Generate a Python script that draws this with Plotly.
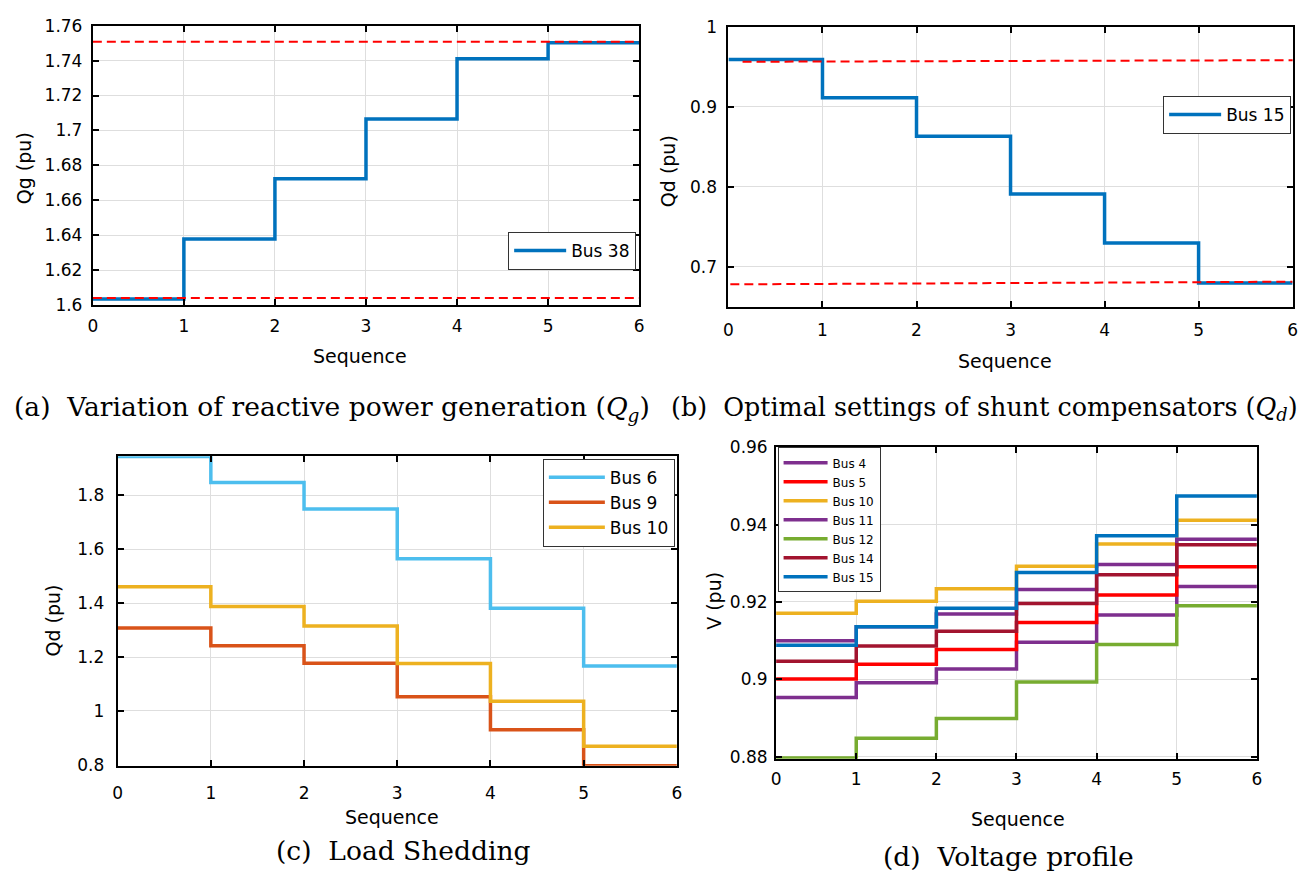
import plotly.graph_objects as go

W, H = 1314, 883

# ---------------- data ----------------
seq = [0, 1, 2, 3, 4, 5, 6]
seq_ticktext = ["0", "1", "2", "3", "4", "5", "6"]

# (a) reactive power generation
qg_bus38 = [1.6035, 1.6379, 1.6724, 1.7066, 1.7411, 1.7502]
qg_limit_x = [0, 6]
qg_upper = [1.7508, 1.7508]
qg_lower = [1.6041, 1.6041]
qg_ticks = [1.6, 1.62, 1.64, 1.66, 1.68, 1.7, 1.72, 1.74, 1.76]
qg_ticktext = ["1.6", "1.62", "1.64", "1.66", "1.68", "1.7", "1.72", "1.74", "1.76"]

# (b) shunt compensators
qd_bus15 = [0.9593, 0.9114, 0.8632, 0.7908, 0.7295, 0.6796]
qd_upper_x = [0.15, 6.05]
qd_upper = [0.9564, 0.9584]
qd_lower_x = [0.02, 6.0]
qd_lower = [0.6778, 0.6811]
qd_ticks = [0.7, 0.8, 0.9, 1.0]
qd_ticktext = ["0.7", "0.8", "0.9", "1"]

# (c) load shedding
shed_bus6 = [1.945, 1.848, 1.750, 1.565, 1.381, 1.167]
shed_bus9 = [1.308, 1.242, 1.177, 1.053, 0.930, 0.797]
shed_bus10 = [1.461, 1.388, 1.315, 1.176, 1.036, 0.869]
shed_ticks = [0.8, 1.0, 1.2, 1.4, 1.6, 1.8]
shed_ticktext = ["0.8", "1", "1.2", "1.4", "1.6", "1.8"]

# (d) voltage profile
v_bus4 = [0.8953, 0.8991, 0.9027, 0.9096, 0.9166, 0.9240]
v_bus5 = [0.9001, 0.9039, 0.9077, 0.9147, 0.9218, 0.9291]
v_bus10 = [0.9171, 0.9202, 0.9234, 0.9292, 0.9350, 0.9411]
v_bus11 = [0.9100, 0.9136, 0.9169, 0.9232, 0.9297, 0.9362]
v_bus12 = [0.8797, 0.8848, 0.8899, 0.8993, 0.9090, 0.9190]
v_bus14 = [0.9047, 0.9086, 0.9124, 0.9196, 0.9270, 0.9348]
v_bus15 = [0.9088, 0.9136, 0.9184, 0.9276, 0.9371, 0.9474]
v_ticks = [0.88, 0.90, 0.92, 0.94, 0.96]
v_ticktext = ["0.88", "0.9", "0.92", "0.94", "0.96"]

captions = [
    "(a)  Variation of reactive power generation (<i>Q</i><sub><i>g</i></sub>)",
    "(b)  Optimal settings of shunt compensators (<i>Q</i><sub><i>d</i></sub>)",
    "(c)  Load Shedding",
    "(d)  Voltage profile",
]

# ---------------- styling ----------------
SANS = "DejaVu Sans"
SERIF = "DejaVu Serif"
BLUE = "#0072BD"
ORANGE = "#D95319"
YELLOW = "#EDB120"
PURPLE = "#7E2F8E"
GREEN = "#77AC30"
LIGHTBLUE = "#4DBEEE"
DARKRED = "#A2142F"
RED = "#FF0000"


def stairs(v):
    return v + v[-1:]


def px_x(p):
    return p / W


def px_y(p):
    return 1 - p / H


fig = go.Figure()


def step(name, vals, color, xa, ya, legend):
    fig.add_trace(go.Scatter(
        x=seq, y=stairs(vals), mode="lines", line_shape="hv",
        line=dict(color=color, width=3.5), name=name,
        xaxis=xa, yaxis=ya, legend=legend,
    ))


def dashed(xs, ys, xa, ya):
    fig.add_trace(go.Scatter(
        x=xs, y=ys, mode="lines",
        line=dict(color=RED, width=2, dash="9px,5px"),
        showlegend=False, xaxis=xa, yaxis=ya, hoverinfo="skip",
    ))


# (a)
step("Bus 38", qg_bus38, BLUE, "x", "y", "legend")
dashed(qg_limit_x, qg_upper, "x", "y")
dashed(qg_limit_x, qg_lower, "x", "y")
# (b)
step("Bus 15", qd_bus15, BLUE, "x2", "y2", "legend2")
dashed(qd_upper_x, qd_upper, "x2", "y2")
dashed(qd_lower_x, qd_lower, "x2", "y2")
# (c)
step("Bus 6", shed_bus6, LIGHTBLUE, "x3", "y3", "legend3")
step("Bus 9", shed_bus9, ORANGE, "x3", "y3", "legend3")
step("Bus 10", shed_bus10, YELLOW, "x3", "y3", "legend3")
# (d)
for nm, vals, col in [("Bus 4", v_bus4, PURPLE), ("Bus 5", v_bus5, RED),
                      ("Bus 10", v_bus10, YELLOW), ("Bus 11", v_bus11, PURPLE),
                      ("Bus 12", v_bus12, GREEN), ("Bus 14", v_bus14, DARKRED),
                      ("Bus 15", v_bus15, BLUE)]:
    step(nm, vals, col, "x4", "y4", "legend4")


def common(standoff):
    return dict(showline=True, linecolor="black", linewidth=2, mirror="ticks",
                ticks="inside", ticklen=6, tickwidth=1.5, tickcolor="black",
                showgrid=True, gridcolor="#dedede", gridwidth=1,
                zeroline=False,
                tickfont=dict(family=SANS, size=17, color="black"),
                ticklabelstandoff=standoff)


def xaxis(domain, anchor, standoff):
    d = common(standoff)
    d.update(domain=domain, anchor=anchor, range=[0, 6], tickvals=seq,
             ticktext=seq_ticktext)
    return d


def yaxis(domain, anchor, rng, tv, tt, standoff):
    d = common(standoff)
    d.update(domain=domain, anchor=anchor, range=rng, tickvals=tv,
             ticktext=tt)
    return d


def legend(x, y, xanchor, size, itemwidth):
    return dict(x=x, y=y, xanchor=xanchor, yanchor="top",
                bgcolor="white", bordercolor="#333333", borderwidth=1,
                font=dict(family=SANS, size=size, color="black"),
                tracegroupgap=0, itemwidth=itemwidth)


fig.update_layout(
    width=W, height=H, margin=dict(l=0, r=0, t=0, b=0),
    paper_bgcolor="white", plot_bgcolor="white", showlegend=True,
    xaxis=xaxis([px_x(88.5), px_x(639)], "y", 4),
    yaxis=yaxis([px_y(302), px_y(16)], "x", [1.6, 1.76], qg_ticks, qg_ticktext, 5),
    xaxis2=xaxis([px_x(729), px_x(1297.5)], "y2", 6),
    yaxis2=yaxis([px_y(304), px_y(17.3)], "x2", [0.6493, 1.0], qd_ticks, qd_ticktext, 6),
    xaxis3=xaxis([px_x(113.5), px_x(677)], "y3", 11),
    yaxis3=yaxis([px_y(773.3), px_y(456.7)], "x3", [0.7964, 1.9452], shed_ticks, shed_ticktext, 8),
    xaxis4=xaxis([px_x(777), px_x(1261.5)], "y4", 4),
    yaxis4=yaxis([px_y(766), px_y(447.3)], "x4", [0.8795, 0.96], v_ticks, v_ticktext, 3),
    legend=legend(px_x(636), px_y(227), "right", 17, 52),
    legend2=legend(px_x(1296), px_y(88), "right", 17, 52),
    legend3=legend(px_x(675), px_y(459), "right", 17, 56),
    legend4=legend(px_x(778.5), px_y(447.5), "left", 12, 44),
)

ann = []


def text(t, x, y, size, family, angle=0):
    ann.append(dict(text=t, x=px_x(x), y=px_y(y), xref="paper", yref="paper",
                    showarrow=False, textangle=angle, xanchor="center",
                    yanchor="middle",
                    font=dict(family=family, size=size, color="black")))


# axis titles
text("Qg (pu)", 19, 162, 19, SANS, -90)
text("Sequence", 358, 354, 19, SANS)
text("Qd (pu)", 668, 165, 19, SANS, -90)
text("Sequence", 1008, 359, 19, SANS)
text("Qd (pu)", 48, 625, 19, SANS, -90)
text("Sequence", 390, 826, 19, SANS)
text("V (pu)", 715, 605, 19, SANS, -90)
text("Sequence", 1021, 828, 19, SANS)
# captions
text(captions[0], 330, 408, 26.5, SERIF)
text(captions[1], 987, 408, 25.4, SERIF)
text(captions[2], 401, 860, 26.5, SERIF)
text(captions[3], 1011, 866, 26.5, SERIF)

fig.update_layout(annotations=ann)
fig.write_html("out.html")
